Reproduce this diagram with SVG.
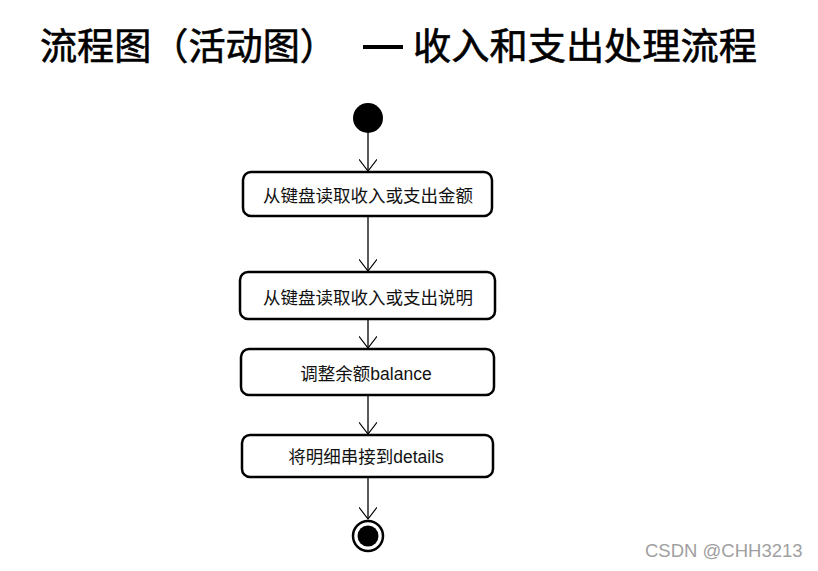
<svg xmlns="http://www.w3.org/2000/svg" width="818" height="571" viewBox="0 0 818 571">
<style>
.title{font-family:"Noto Sans CJK SC","Noto Sans",sans-serif;font-size:37px;font-weight:normal;fill:#000;stroke:#000;stroke-width:0.6}
.box{fill:#fff;stroke:#000;stroke-width:2.5}
.lbl{font-family:"Liberation Sans","Noto Sans CJK SC",sans-serif;font-size:17.5px;fill:#111;text-anchor:middle}
.edge{stroke:#000;stroke-width:1.3;fill:none}
.wm{font-family:"Liberation Sans","Noto Sans",sans-serif;font-size:18.5px;fill:#a0a0a0}
</style>
<defs>
<marker id="open" markerUnits="userSpaceOnUse" markerWidth="24" markerHeight="18" refX="14" refY="10" orient="auto" viewBox="0 0 24 20">
<path d="M1,0 L14,10 L1,20" fill="none" stroke="#000" stroke-width="1.3"/>
</marker>
</defs>
<rect width="818" height="571" fill="#fff"/>
<g id="title">
<text class="title" x="40" y="60" textLength="297" lengthAdjust="spacingAndGlyphs">流程图（活动图）</text>
<rect x="363" y="45" width="40" height="4" fill="#000"/>
<text class="title" x="413" y="60" textLength="344" lengthAdjust="spacingAndGlyphs">收入和支出处理流程</text>
</g>
<g id="edges">
<line class="edge" x1="368" y1="133" x2="368" y2="171" marker-end="url(#open)"/>
<line class="edge" x1="368" y1="216" x2="368" y2="271" marker-end="url(#open)"/>
<line class="edge" x1="368" y1="319" x2="368" y2="348" marker-end="url(#open)"/>
<line class="edge" x1="368" y1="395" x2="368" y2="434" marker-end="url(#open)"/>
<line class="edge" x1="368" y1="477" x2="368" y2="519" marker-end="url(#open)"/>
</g>
<g id="start">
<circle cx="368" cy="118" r="15" fill="#000"/>
</g>
<g id="n1">
<rect class="box" x="243" y="172" width="249" height="44" rx="8"/>
<text class="lbl" x="368" y="202">从键盘读取收入或支出金额</text>
</g>
<g id="n2">
<rect class="box" x="240" y="272" width="255" height="47" rx="8"/>
<text class="lbl" x="368" y="304">从键盘读取收入或支出说明</text>
</g>
<g id="n3">
<rect class="box" x="241" y="349" width="253" height="46" rx="8"/>
<text class="lbl" x="366" y="380">调整余额balance</text>
</g>
<g id="n4">
<rect class="box" x="242" y="435" width="251" height="42" rx="8"/>
<text class="lbl" x="366" y="463">将明细串接到details</text>
</g>
<g id="end">
<circle cx="368" cy="536" r="15" fill="#fff" stroke="#000" stroke-width="2.5"/>
<circle cx="368" cy="536" r="10.5" fill="#000"/>
</g>
<text class="wm" x="645" y="557">CSDN @CHH3213</text>
</svg>
